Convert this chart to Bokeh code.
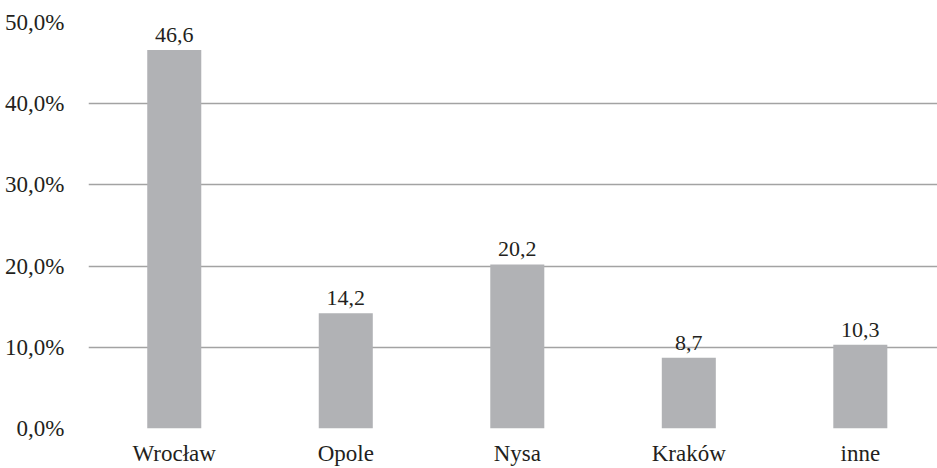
from bokeh.plotting import figure
from bokeh.models import ColumnDataSource, FixedTicker, Range1d, LabelSet
from bokeh.embed import file_html
from bokeh.resources import INLINE

categories = ["Wrocław", "Opole", "Nysa", "Kraków", "inne"]
values = [46.6, 14.2, 20.2, 8.7, 10.3]
y_ticks = [0, 10, 20, 30, 40, 50]
y_tick_labels = ["0,0%", "10,0%", "20,0%", "30,0%", "40,0%", "50,0%"]

FONT = "Liberation Serif"
TXT = "#231f20"

xs = list(range(len(categories)))
src = ColumnDataSource(dict(
    x=xs, top=values,
    label=[f"{v:.1f}".replace(".", ",") for v in values],
))

p = figure(width=937, height=468, output_backend="svg", toolbar_location=None,
           x_range=Range1d(-0.5, 4.45), y_range=Range1d(0, 50),
           min_border_left=88, min_border_right=0, min_border_top=22, min_border_bottom=40)
p.outline_line_color = None
p.background_fill_color = "white"
p.border_fill_color = "white"

p.vbar(x="x", top="top", width=0.315, bottom=0, source=src,
       fill_color="#b1b2b5", line_color=None)

labels = LabelSet(x="x", y="top", text="label", source=src, text_align="center",
                  text_baseline="alphabetic", y_offset=8, text_font=FONT,
                  text_font_size="22px", text_color=TXT)
p.add_layout(labels)

p.xaxis.ticker = FixedTicker(ticks=xs)
p.xaxis.major_label_overrides = {i: c for i, c in enumerate(categories)}
p.yaxis.ticker = FixedTicker(ticks=y_ticks)
p.yaxis.major_label_overrides = {t: l for t, l in zip(y_ticks, y_tick_labels)}

for ax in (p.xaxis, p.yaxis):
    ax.axis_line_color = None
    ax.major_tick_line_color = None
    ax.minor_tick_line_color = None
    ax.major_label_text_font = FONT
    ax.major_label_text_font_size = "23px"
    ax.major_label_text_color = TXT
p.yaxis.major_label_standoff = 18
p.xaxis.major_label_standoff = 6

p.xgrid.grid_line_color = None
p.ygrid.ticker = FixedTicker(ticks=y_ticks)
p.ygrid.grid_line_color = "#a3a3a3"
p.ygrid.grid_line_width = 1.3

open("out.html", "w").write(file_html(p, INLINE))
